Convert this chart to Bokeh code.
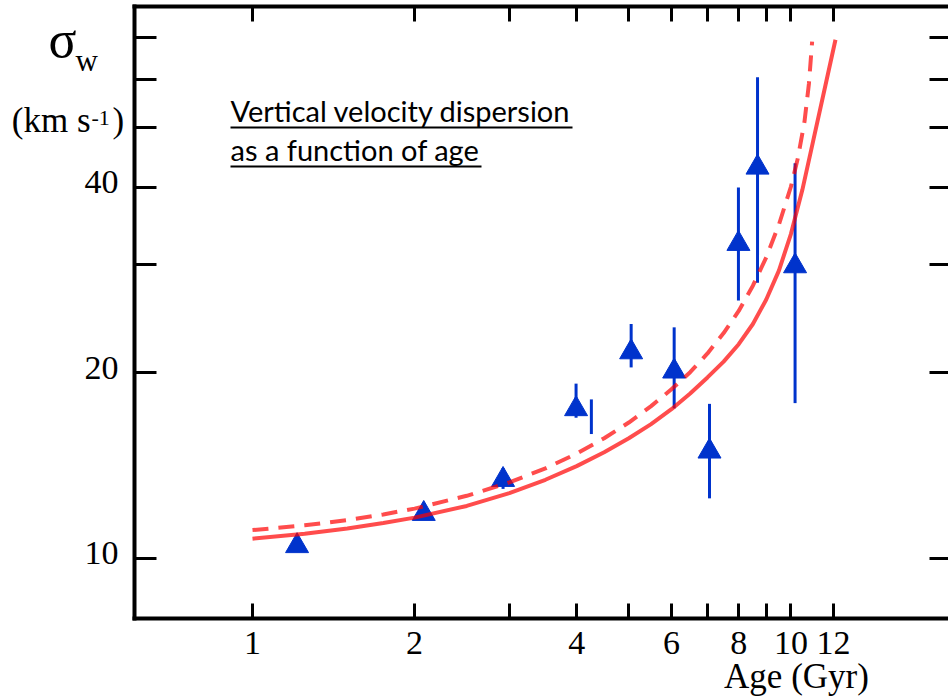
import math
from bokeh.plotting import figure
from bokeh.models import Range1d, FixedTicker, LogAxis, Label, ColumnDataSource
from bokeh.embed import file_html
from bokeh.resources import INLINE

# ---------------- data ----------------
age_pts = [1.21, 2.08, 2.92, 3.99, 5.05, 6.07, 7.06, 7.99, 8.67, 10.18]
sigma_pts = [10.46, 11.8, 13.4, 17.46, 21.6, 20.1, 14.9, 32.4, 43.1, 29.8]

bar_age = [2.92, 3.99, 4.26, 5.05, 6.07, 7.06, 7.99, 8.67, 10.18]
bar_low = [12.95, 16.9, 15.9, 20.4, 17.5, 12.5, 26.2, 28.0, 17.85]
bar_high = [14.0, 19.2, 18.1, 24.0, 23.7, 17.8, 40.0, 60.4, 43.8]

solid_age = [1.0, 1.25, 1.5, 1.75, 2.0, 2.5, 3.0, 3.5, 4.0, 4.5, 5.0, 5.5, 6.0,
             6.5, 7.0, 7.5, 8.0, 8.5, 9.0, 9.5, 10.0, 10.5, 11.0, 11.5, 12.1]
solid_sigma = [10.75, 10.95, 11.17, 11.4, 11.63, 12.15, 12.75, 13.4, 14.1, 14.85,
               15.65, 16.5, 17.45, 18.5, 19.65, 20.85, 22.25, 24.0, 26.3, 29.3,
               33.6, 39.6, 47.6, 56.8, 69.5]

dashed_age = [1.0, 1.25, 1.5, 1.75, 2.0, 2.5, 3.0, 3.5, 4.0, 4.5, 5.0, 5.5, 6.0,
              6.5, 7.0, 7.5, 8.0, 8.5, 9.0, 9.5, 10.0, 10.3, 10.6, 10.8, 10.95]
dashed_sigma = [11.1, 11.3, 11.52, 11.77, 12.03, 12.62, 13.27, 13.98, 14.78, 15.65,
                16.6, 17.65, 18.8, 20.04, 21.5, 23.2, 25.2, 27.7, 30.8, 34.8,
                40.1, 44.6, 51.2, 58.9, 69.0]

x_ticks = [1, 2, 3, 4, 5, 6, 7, 8, 9, 10, 12]
x_tick_labels = ["1", "2", "", "4", "", "6", "", "8", "", "10", "12"]
y_ticks = [10, 20, 30, 40, 50, 60, 70]
y_tick_labels = ["10", "20", "", "40", "", "", ""]

# ---------------- layout (canvas pixels) ----------------
W, H = 948, 698
X1_PX, X_DEC = 252.0, 538.4      # canvas x of age 1, px per decade
Y10_PX, Y_DEC = 557.5, 615.5     # canvas y of sigma 10, px per decade
SP_L, SP_B, SP_T, SP_R = 134, 618, 5.5, 948   # spines


def cx(px):
    return 10 ** ((px - X1_PX) / X_DEC)


def cy(py):
    return 10 * 10 ** ((Y10_PX - py) / Y_DEC)


def py_of(v):
    return Y10_PX - Y_DEC * math.log10(v / 10)


BLUE = "#0033cc"
RED = "red"
SERIF = "Liberation Serif"

p = figure(width=W, height=H, x_axis_type="log", y_axis_type="log",
           x_range=Range1d(cx(0), cx(W)), y_range=Range1d(cy(H), cy(0)),
           output_backend="svg", toolbar_location=None,
           min_border_left=0, min_border_right=0, min_border_top=0,
           min_border_bottom=0, outline_line_color=None,
           background_fill_color="white", border_fill_color="white")
p.xgrid.visible = False
p.ygrid.visible = False


def style_axis(ax, ticks, labels, tick_in, show_labels=True, line=True):
    ax.ticker = FixedTicker(ticks=ticks)
    ax.major_label_overrides = {t: l for t, l in zip(ticks, labels)}
    ax.major_tick_in = tick_in
    ax.major_tick_out = 0
    ax.minor_tick_in = 0
    ax.minor_tick_out = 0
    ax.minor_tick_line_color = None
    ax.major_tick_line_width = 3
    ax.major_tick_line_color = "black"
    ax.axis_line_width = 4
    ax.axis_line_color = "black" if line else None
    if show_labels:
        ax.major_label_text_font = SERIF
        ax.major_label_text_font_size = "34px"
        ax.major_label_text_color = "black"
    else:
        ax.major_label_text_font_size = "0px"
        ax.major_label_standoff = 0


xa = p.xaxis[0]
style_axis(xa, x_ticks, x_tick_labels, 15)
xa.major_label_standoff = 13
xa.fixed_location = cy(SP_B)
xa.bounds = (cx(SP_L - 2), cx(SP_R))

ya = p.yaxis[0]
style_axis(ya, y_ticks, [""] * len(y_ticks), 22, show_labels=False)
ya.fixed_location = cx(SP_L)
ya.bounds = (cy(SP_B + 2), cy(SP_T - 2))

top = LogAxis()
style_axis(top, x_ticks, [""] * len(x_ticks), 15, show_labels=False)
top.fixed_location = cy(SP_T)
top.bounds = (cx(SP_L - 2), cx(SP_R))
p.add_layout(top, "above")

right = LogAxis()
style_axis(right, y_ticks, [""] * len(y_ticks), 19, show_labels=False, line=False)
right.fixed_location = cx(SP_R)
p.add_layout(right, "right")

# ---------------- data marks ----------------
bars = ColumnDataSource(dict(x=bar_age, lo=bar_low, hi=bar_high))
p.segment(x0="x", y0="lo", x1="x", y1="hi", source=bars, line_color=BLUE, line_width=3)
pts = ColumnDataSource(dict(x=age_pts, y=sigma_pts))
p.scatter(x="x", y="y", source=pts, marker="triangle", size=23,
          fill_color=BLUE, line_color=BLUE, line_width=1)

p.line(solid_age, solid_sigma, line_color=RED, line_alpha=0.7, line_width=4)
p.line(dashed_age, dashed_sigma, line_color=RED, line_alpha=0.7, line_width=4,
       line_dash="16 10")


# ---------------- texts ----------------
def lab(px, py, text, size, font=SERIF, align="left"):
    p.add_layout(Label(x=cx(px), y=cy(py), text=text, text_font=font,
                       text_font_size=f"{size}px", text_align=align,
                       text_baseline="alphabetic", text_color="black"))


# y tick labels (left of the left spine, slightly above their ticks)
for v, t in zip(y_ticks, y_tick_labels):
    if t:
        lab(118, py_of(v) - 5, t, 34, align="right")

lab(48, 39, "σ", 52)
lab(75, 60, "w", 31)
lab(90, 120, "(km s", 35, align="right")
lab(91, 117, "-1", 22)
lab(112, 120, ")", 35)
lab(796, 676, "Age (Gyr)", 35, align="center")

lab(230, 110, "Vertical velocity dispersion", 29, font="Lato")
lab(230, 149, "as a function of age", 29, font="Lato")
# underlines of the annotation
p.segment(x0=[cx(230), cx(230)], y0=[cy(127), cy(166)],
          x1=[cx(572), cx(481)], y1=[cy(127), cy(166)],
          line_color="black", line_width=2)

open("out.html", "w").write(file_html(p, INLINE))
